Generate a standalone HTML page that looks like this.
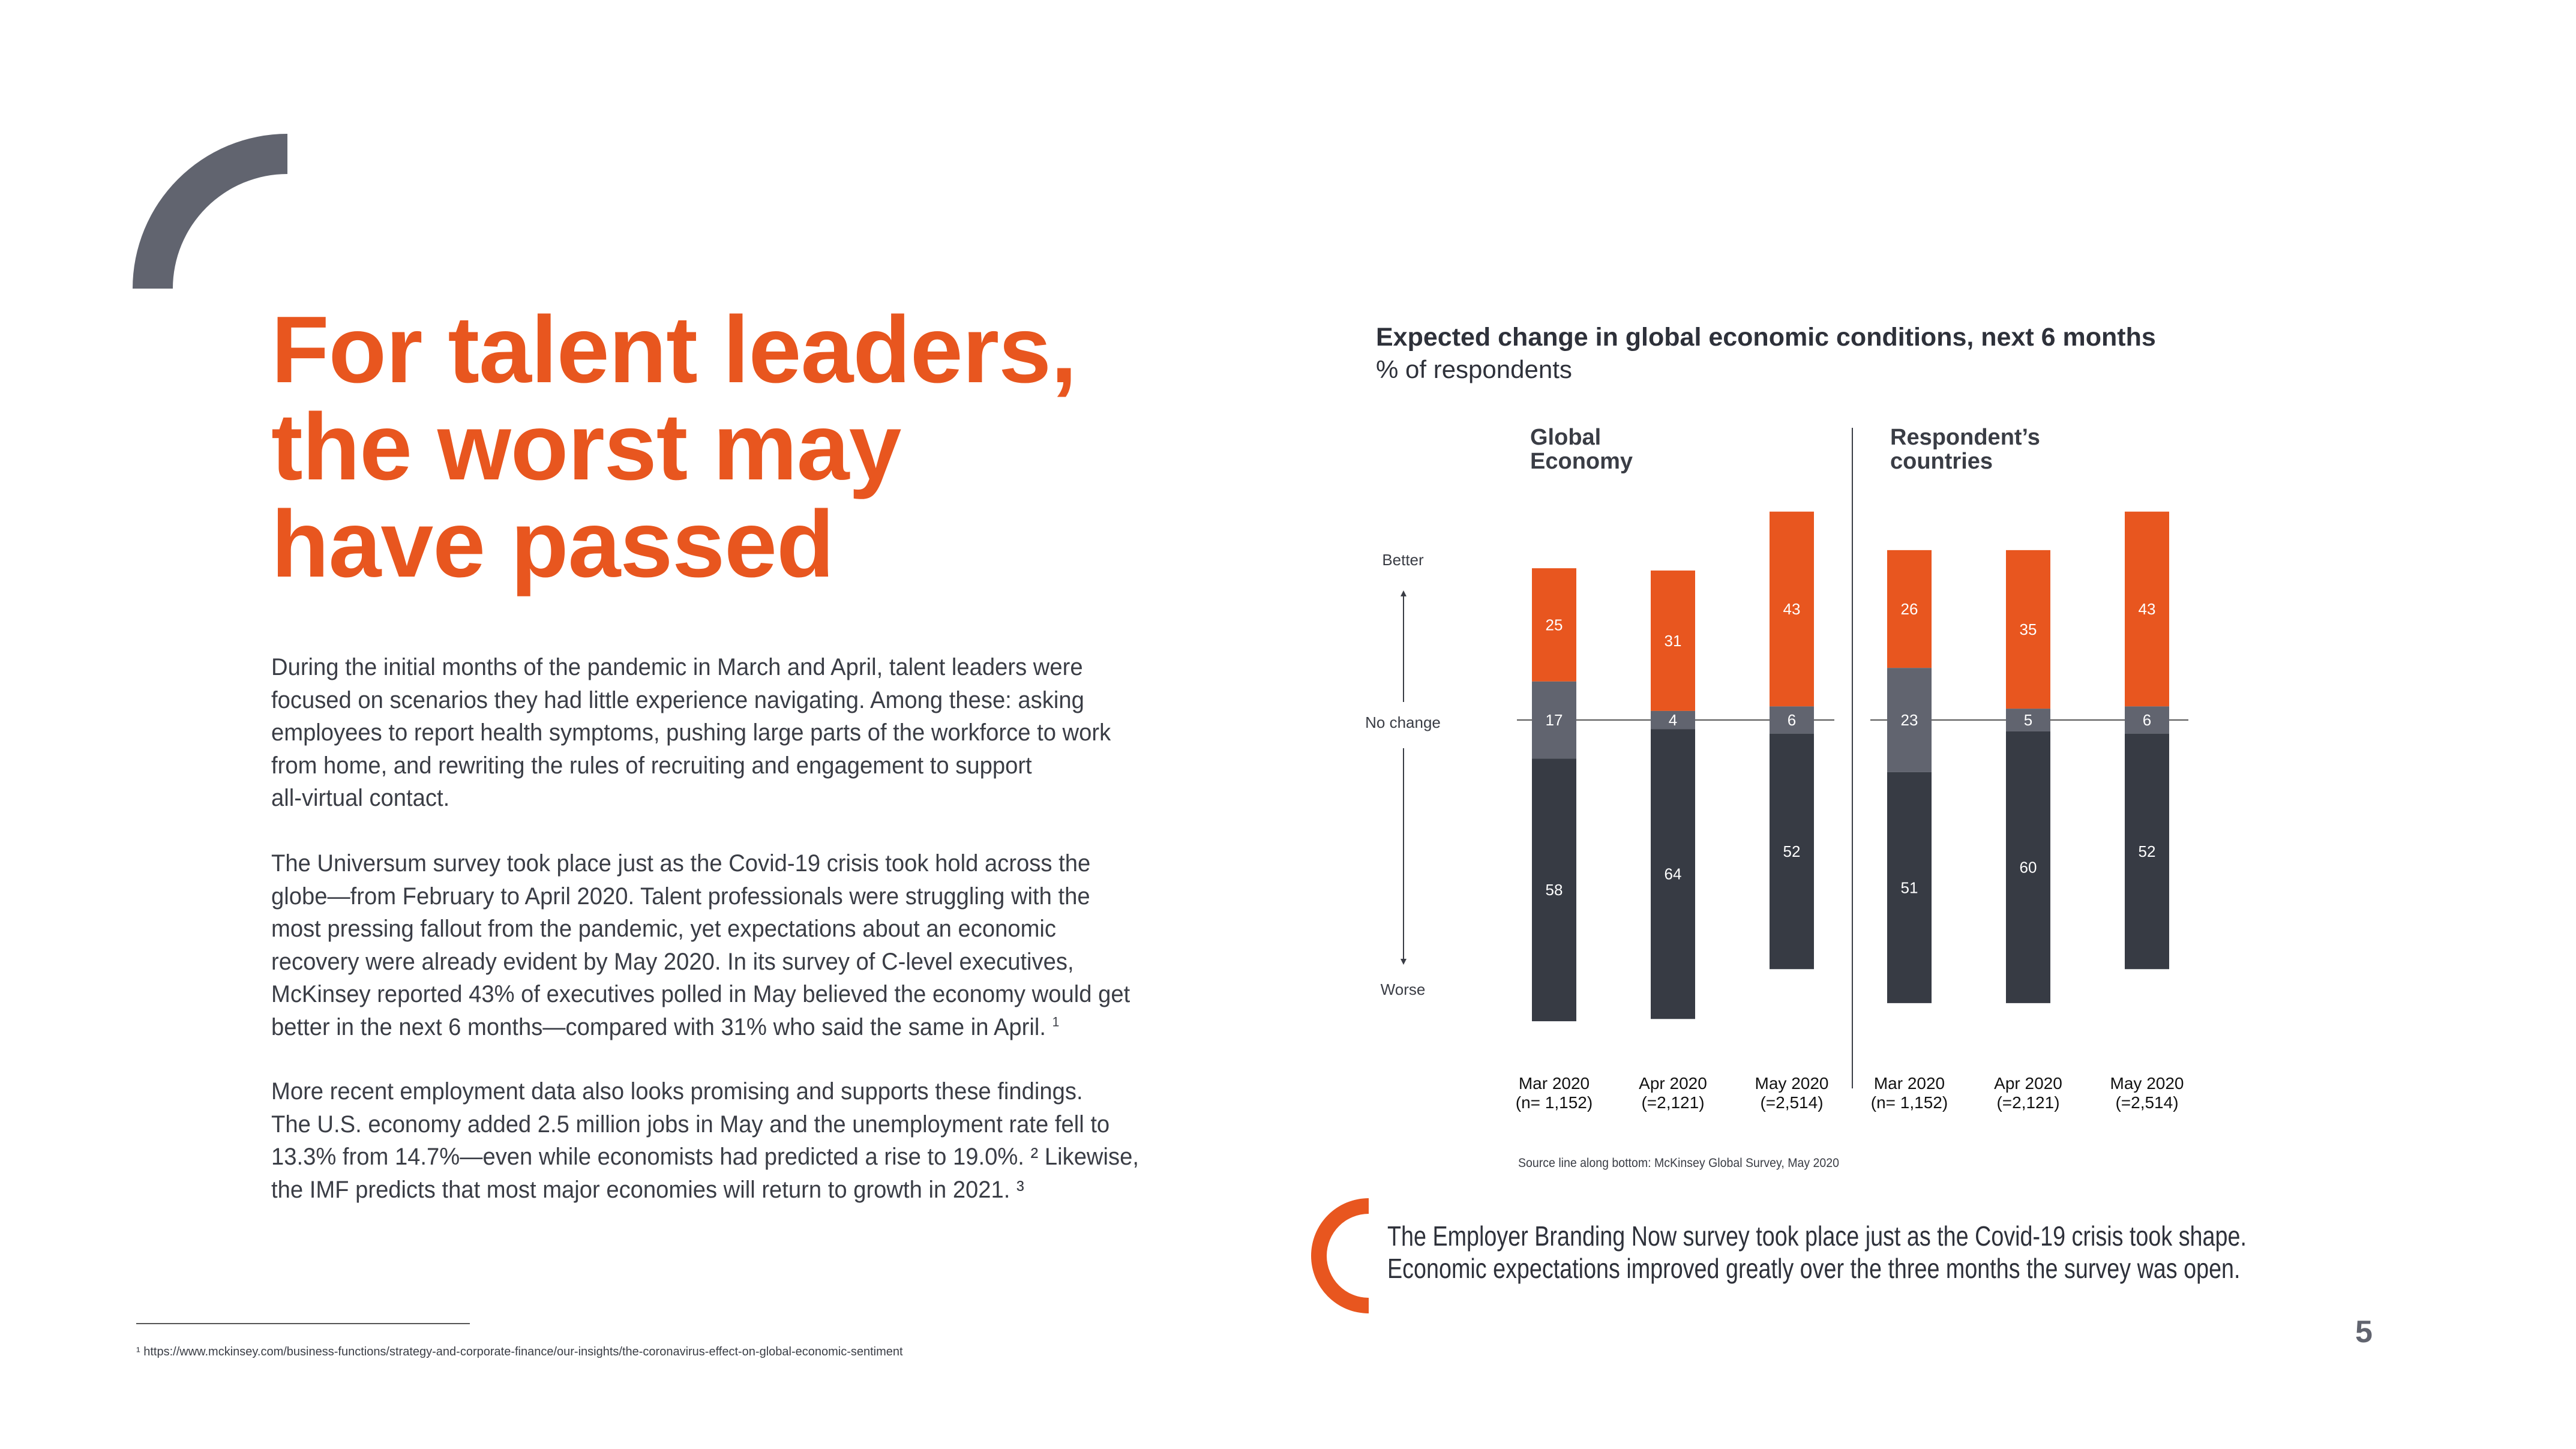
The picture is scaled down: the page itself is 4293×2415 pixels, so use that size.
<!DOCTYPE html>
<html><head><meta charset="utf-8">
<style>
html,body{margin:0;padding:0;background:#fff;}
body{width:4293px;height:2415px;position:relative;overflow:hidden;font-family:"Liberation Sans",sans-serif;}
.abs{position:absolute;white-space:nowrap;}
.h1{left:452px;color:#E8561F;font-weight:bold;font-size:158px;line-height:162px;letter-spacing:-1px;}
.body{left:452px;color:#3a3d45;font-family:"Liberation Sans Narrow","Liberation Sans",sans-serif;font-size:40px;line-height:54.5px;transform:scaleX(0.955);transform-origin:0 0;}
sup{line-height:0;font-size:22px;vertical-align:super;}
</style></head><body>
<svg class="abs" style="left:0;top:0" width="500" height="500">
<path d="M221 481 A258 258 0 0 1 479 223 L479 290 A191 191 0 0 0 288 481 Z" fill="#61646F"/>
</svg>
<div class="abs h1" style="top:502px">For talent leaders,<br>the worst may<br>have passed</div>
<div class="abs body" style="top:1085px">During the initial months of the pandemic in March and April, talent leaders were<br>focused on scenarios they had little experience navigating. Among these: asking<br>employees to report health symptoms, pushing large parts of the workforce to work<br>from home, and rewriting the rules of recruiting and engagement to support<br>all-virtual contact.</div>
<div class="abs body" style="top:1412px">The Universum survey took place just as the Covid-19 crisis took hold across the<br>globe—from February to April 2020. Talent professionals were struggling with the<br>most pressing fallout from the pandemic, yet expectations about an economic<br>recovery were already evident by May 2020. In its survey of C-level executives,<br>McKinsey reported 43% of executives polled in May believed the economy would get<br>better in the next 6 months—compared with 31% who said the same in April. <sup>1</sup></div>
<div class="abs body" style="top:1792px">More recent employment data also looks promising and supports these findings.<br>The U.S. economy added 2.5 million jobs in May and the unemployment rate fell to<br>13.3% from 14.7%—even while economists had predicted a rise to 19.0%. ² Likewise,<br>the IMF predicts that most major economies will return to growth in 2021. ³</div>
<div class="abs" style="left:227px;top:2205px;width:556px;height:2px;background:#555"></div>
<div class="abs" style="left:227px;top:2242px;font-size:20px;color:#3a3d45">¹ https://www.mckinsey.com/business-functions/strategy-and-corporate-finance/our-insights/the-coronavirus-effect-on-global-economic-sentiment</div>

<svg id="chart" class="abs" style="left:0;top:0" width="4293" height="2415">
<text x="2293" y="576" font-size="43" font-weight="bold" fill="#2e313a">Expected change in global economic conditions, next 6 months</text>
<text x="2293" y="630" font-size="42" fill="#2e313a">% of respondents</text>
<text x="2550" y="741" font-size="38" font-weight="bold" fill="#3a3d45">Global</text>
<text x="2550" y="781" font-size="38" font-weight="bold" fill="#3a3d45">Economy</text>
<text x="3150" y="741" font-size="38" font-weight="bold" fill="#3a3d45">Respondent’s</text>
<text x="3150" y="781" font-size="38" font-weight="bold" fill="#3a3d45">countries</text>
<line x1="3087" y1="713" x2="3087" y2="1814" stroke="#3a3d45" stroke-width="2"/>
<text x="2338" y="942" font-size="26" fill="#3a3d45" text-anchor="middle">Better</text>
<text x="2338" y="1213" font-size="26" fill="#3a3d45" text-anchor="middle">No change</text>
<text x="2338" y="1658" font-size="26" fill="#3a3d45" text-anchor="middle">Worse</text>
<line x1="2339" y1="990" x2="2339" y2="1170" stroke="#3a3d45" stroke-width="2"/>
<path d="M2334 994 L2339 984 L2344 994 Z" fill="#3a3d45"/>
<line x1="2339" y1="1247" x2="2339" y2="1602" stroke="#3a3d45" stroke-width="2"/>
<path d="M2334 1598 L2339 1608 L2344 1598 Z" fill="#3a3d45"/>
<line x1="2528" y1="1200" x2="3057" y2="1200" stroke="#555" stroke-width="2"/>
<line x1="3117" y1="1200" x2="3647" y2="1200" stroke="#555" stroke-width="2"/>
<g id="bars"></g>
<text x="2530" y="1945" font-size="21" fill="#3a3d45" textLength="535" lengthAdjust="spacingAndGlyphs">Source line along bottom: McKinsey Global Survey, May 2020</text>
</svg>

<svg class="abs" style="left:2150px;top:1980px" width="150" height="230">
<path d="M131 17 A96 96 0 0 0 131 209 L131 183 A70 70 0 0 1 131 43 Z" fill="#E8561F"/>
</svg>
<div class="abs" style="left:2312px;top:2033px;font-size:46px;line-height:54px;color:#2e313a;transform:scaleX(0.82);transform-origin:0 0">The Employer Branding Now survey took place just as the Covid-19 crisis took shape.<br>Economic expectations improved greatly over the three months the survey was open.</div>
<div class="abs" style="left:3925px;top:2190px;font-size:52px;font-weight:bold;color:#61646F">5</div>

<script>
const categories = ['Mar 2020','Apr 2020','May 2020','Mar 2020','Apr 2020','May 2020'];
const sampleLabels = ['(n= 1,152)','(=2,121)','(=2,514)','(n= 1,152)','(=2,121)','(=2,514)'];
const better = [25,31,43,26,35,43];
const noChange = [17,4,6,23,5,6];
const worse = [58,64,52,51,60,52];

const NS='http://www.w3.org/2000/svg';
const g=document.getElementById('bars');
const BASE=1200, K=7.55, BW=74;
function xCenter(i){ return (i<3?2590:3182) + (i%3)*198; }
function yv(v){ return BASE - v*K; }
function rect(x,y,h,fill,name){
  const r=document.createElementNS(NS,'rect');
  r.setAttribute('x',x);r.setAttribute('y',y);r.setAttribute('width',BW);r.setAttribute('height',h);r.setAttribute('fill',fill);
  
  
  g.appendChild(r);
}
function txt(x,y,s,fill,size,name){
  const t=document.createElementNS(NS,'text');
  t.setAttribute('x',x);t.setAttribute('y',y);t.setAttribute('fill',fill);t.setAttribute('font-size',size);t.setAttribute('text-anchor','middle');
  t.textContent=s;
  
  
  g.appendChild(t);
}
for(let i=0;i<categories.length;i++){
  const cx=xCenter(i), x=cx-BW/2;
  const gTop=yv(noChange[i]/2), gBot=yv(-noChange[i]/2);
  const oTop=gTop-better[i]*K, dBot=gBot+worse[i]*K;
  rect(x,oTop,better[i]*K,'#E8561F','bar-better');
  rect(x,gTop,noChange[i]*K,'#61646F','bar-no-change');
  rect(x,gBot,worse[i]*K,'#373B44','bar-worse');
  txt(cx,(oTop+gTop)/2+9,better[i],'#fff',26,'value-better');
  txt(cx,(gTop+gBot)/2+9,noChange[i],'#fff',26,'value-no-change');
  txt(cx,(gBot+dBot)/2+9,worse[i],'#fff',26,'value-worse');
  txt(cx,1815,categories[i],'#111',28,'x-label');
  txt(cx,1847,sampleLabels[i],'#111',28,'x-sample-label');
}
</script>
</body></html>
